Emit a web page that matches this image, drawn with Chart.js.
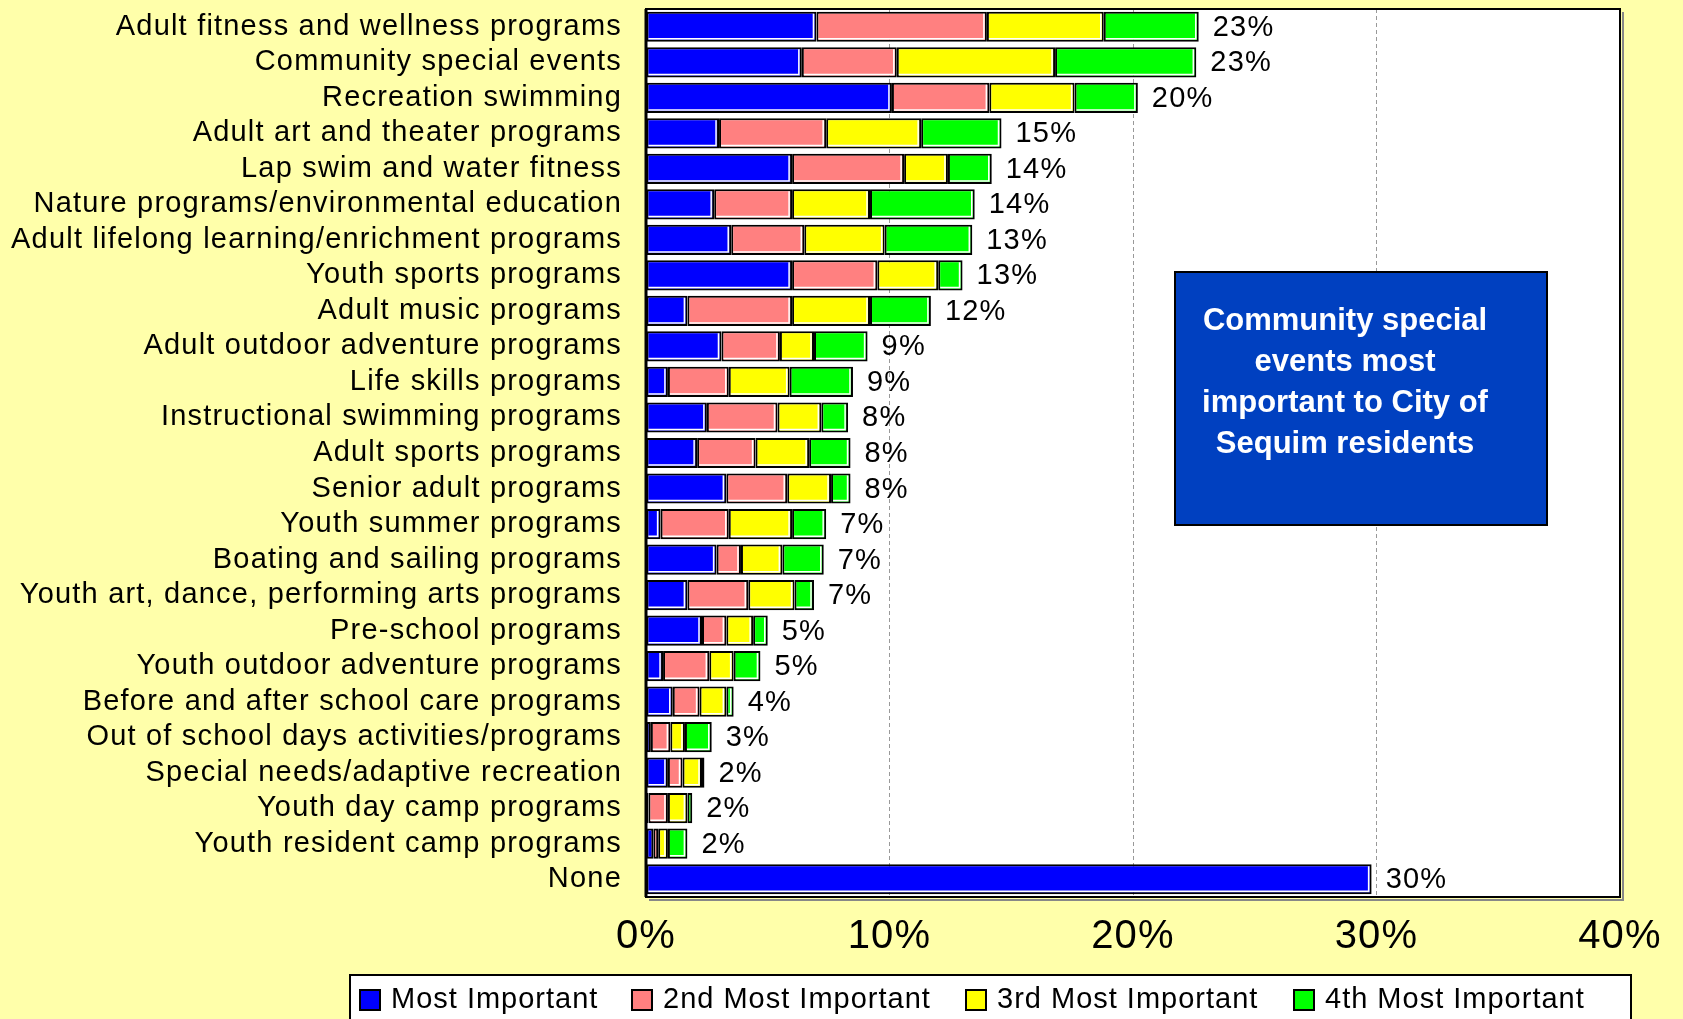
<!DOCTYPE html>
<html>
<head>
<meta charset="utf-8">
<script src="https://cdn.jsdelivr.net/npm/chart.js@4.4.0/dist/chart.umd.min.js"></script>
<style>
  html, body { margin: 0; padding: 0; background: #FFFFAA; }
  #wrap { width: 1683px; height: 1019px; }
</style>
</head>
<body>
<div id="wrap"><canvas id="chart" width="1683" height="1019"></canvas></div>
<script>
const categories = [
    'Adult fitness and wellness programs',
    'Community special events',
    'Recreation swimming',
    'Adult art and theater programs',
    'Lap swim and water fitness',
    'Nature programs/environmental education',
    'Adult lifelong learning/enrichment programs',
    'Youth sports programs',
    'Adult music programs',
    'Adult outdoor adventure programs',
    'Life skills programs',
    'Instructional swimming programs',
    'Adult sports programs',
    'Senior adult programs',
    'Youth summer programs',
    'Boating and sailing programs',
    'Youth art, dance, performing arts programs',
    'Pre-school programs',
    'Youth outdoor adventure programs',
    'Before and after school care programs',
    'Out of school days activities/programs',
    'Special needs/adaptive recreation',
    'Youth day camp programs',
    'Youth resident camp programs',
    'None'
];

const mostImportant = [7.0, 6.4, 10.1, 3.0, 6.0, 2.8, 3.5, 6.0, 1.7, 3.1, 0.9, 2.5, 2.1, 3.3, 0.6, 2.9, 1.7, 2.3, 0.7, 1.1, 0.2, 0.9, 0.1, 0.3, 29.8];
const secondMost    = [7.0, 3.9, 4.0, 4.4, 4.6, 3.2, 3.0, 3.5, 4.3, 2.4, 2.5, 2.9, 2.4, 2.5, 2.8, 1.0, 2.5, 1.0, 1.9, 1.1, 0.8, 0.6, 0.8, 0.2, 0];
const thirdMost     = [4.8, 6.5, 3.5, 3.9, 1.8, 3.2, 3.3, 2.5, 3.2, 1.4, 2.5, 1.8, 2.2, 1.8, 2.6, 1.7, 1.9, 1.1, 1.0, 1.1, 0.6, 0.8, 0.8, 0.4, 0];
const fourthMost    = [3.9, 5.8, 2.6, 3.3, 1.8, 4.3, 3.6, 1.0, 2.5, 2.2, 2.6, 1.1, 1.7, 0.8, 1.4, 1.7, 0.8, 0.6, 1.1, 0.3, 1.1, 0.1, 0.2, 0.8, 0];
const totalLabels   = [23, 23, 20, 15, 14, 14, 13, 13, 12, 9, 9, 8, 8, 8, 7, 7, 7, 5, 5, 4, 3, 2, 2, 2, 30];

const seriesNames = ['Most Important', '2nd Most Important', '3rd Most Important', '4th Most Important'];
const seriesColors = ['#0000FF', '#FF8080', '#FFFF00', '#00FF00'];
const xMax = 40;
const xStep = 10;
const calloutLines = ['Community special', 'events most', 'important to City of', 'Sequim residents'];

const FONT = "'Liberation Sans', Arial, Helvetica, sans-serif";

const seriesValues = [mostImportant, secondMost, thirdMost, fourthMost];
const datasets = seriesNames.map((name, i) => ({
    label: name,
    data: seriesValues[i],
    backgroundColor: seriesColors[i],
    borderColor: '#000000',
    borderWidth: 2,
    borderSkipped: false,
    barPercentage: 0.85,
    categoryPercentage: 1.0
}));

// white highlight inside each segment (bottom/right), like the old Excel look
const segmentHighlight = {
    id: 'segmentHighlight',
    afterDatasetsDraw(chart) {
        const ctx = chart.ctx;
        ctx.save();
        ctx.strokeStyle = '#FFFFFF';
        ctx.lineWidth = 1.5;
        chart.data.datasets.forEach((ds, di) => {
            chart.getDatasetMeta(di).data.forEach((bar, i) => {
                if (!ds.data[i]) return;
                const l = Math.min(bar.base, bar.x) + 2;
                const r = Math.max(bar.base, bar.x) - 2;
                const t = bar.y - bar.height / 2 + 2;
                const b = bar.y + bar.height / 2 - 2;
                if (r - l < 3) return;
                ctx.beginPath();
                ctx.moveTo(l, b - 1);
                ctx.lineTo(r - 1, b - 1);
                ctx.lineTo(r - 1, t);
                ctx.stroke();
            });
        });
        ctx.restore();
    }
};

const totalsPlugin = {
    id: 'totals',
    afterDatasetsDraw(chart) {
        const ctx = chart.ctx;
        const lastMeta = chart.getDatasetMeta(chart.data.datasets.length - 1);
        ctx.save();
        ctx.font = '29px ' + FONT;
        ctx.fillStyle = '#000';
        ctx.textAlign = 'left';
        ctx.textBaseline = 'middle';
        lastMeta.data.forEach((bar, i) => {
            ctx.fillText(totalLabels[i] + '%', bar.x + 14, bar.y + 1);
        });
        ctx.restore();
    }
};

const framePlugin = {
    id: 'frame',
    beforeDraw(chart) {
        const { ctx, chartArea: a } = chart;
        ctx.fillStyle = '#FFFFAA';
        ctx.fillRect(0, 0, chart.width, chart.height);
        ctx.fillStyle = '#FFFFFF';
        ctx.fillRect(a.left, a.top, a.right - a.left, a.bottom - a.top);
        // the original text is set a little loose
        ctx.letterSpacing = '1.2px';
    },
    afterDraw(chart) {
        const { ctx, chartArea: a } = chart;
        ctx.save();
        ctx.strokeStyle = '#888';
        ctx.lineWidth = 2;
        ctx.beginPath();
        ctx.moveTo(a.left + 3, a.bottom + 3);
        ctx.lineTo(a.right + 3, a.bottom + 3);
        ctx.lineTo(a.right + 3, a.top + 3);
        ctx.stroke();
        ctx.strokeStyle = '#000';
        ctx.lineWidth = 2;
        ctx.strokeRect(a.left, a.top, a.right - a.left, a.bottom - a.top);
        ctx.lineWidth = 3;
        ctx.beginPath();
        ctx.moveTo(a.left, a.top);
        ctx.lineTo(a.left, a.bottom);
        ctx.stroke();

        // callout box
        const bx = 1175, by = 272, bw = 372, bh = 253;
        ctx.fillStyle = '#FFFFFF';
        ctx.fillRect(bx + 2, by + 2, bw, bh);
        ctx.fillStyle = '#0040C0';
        ctx.fillRect(bx, by, bw, bh);
        ctx.strokeStyle = '#000';
        ctx.lineWidth = 2;
        ctx.strokeRect(bx, by, bw, bh);
        ctx.fillStyle = '#FFFFFF';
        ctx.letterSpacing = '0px';
        ctx.font = 'bold 31px ' + FONT;
        ctx.textAlign = 'center';
        ctx.textBaseline = 'middle';
        calloutLines.forEach((line, i) => {
            ctx.fillText(line, bx + 170, by + 49 + i * 41);
        });

        // legend
        ctx.letterSpacing = '1px';
        const lx = 350, ly = 975, lw = 1281;
        ctx.fillStyle = '#FFFFFF';
        ctx.fillRect(lx, ly, lw, chart.height - ly + 5);
        ctx.strokeStyle = '#000';
        ctx.lineWidth = 2;
        ctx.strokeRect(lx, ly, lw, chart.height - ly + 5);
        const itemX = [360, 632, 966, 1294];
        ctx.font = '29px ' + FONT;
        ctx.textAlign = 'left';
        ctx.textBaseline = 'middle';
        seriesNames.forEach((name, i) => {
            const sx = itemX[i], sy = 990;
            ctx.fillStyle = '#FFFFFF';
            ctx.fillRect(sx + 2, sy + 2, 20, 20);
            ctx.fillStyle = seriesColors[i];
            ctx.fillRect(sx, sy, 20, 20);
            ctx.strokeStyle = '#000';
            ctx.lineWidth = 2;
            ctx.strokeRect(sx, sy, 20, 20);
            ctx.fillStyle = '#000';
            ctx.fillText(name, sx + 31, 1000);
        });
        ctx.restore();
    }
};

new Chart(document.getElementById('chart'), {
    type: 'bar',
    data: { labels: categories, datasets: datasets },
    options: {
        indexAxis: 'y',
        responsive: false,
        animation: false,
        devicePixelRatio: 1,
        layout: { padding: { top: 9, right: 63, bottom: 0, left: 0 } },
        plugins: {
            legend: { display: false },
            tooltip: { enabled: false }
        },
        scales: {
            x: {
                stacked: true,
                min: 0,
                max: xMax,
                afterFit: (scale) => { scale.height = 122; },
                ticks: {
                    stepSize: xStep,
                    callback: (v) => v + '%',
                    color: '#000',
                    font: { family: FONT, size: 40 },
                    padding: 16
                },
                grid: { color: '#999', lineWidth: 1, drawTicks: false },
                border: { display: false, dash: [4, 3] }
            },
            y: {
                stacked: true,
                afterFit: (scale) => {
                    scale.width = 646;
                    scale.paddingTop = 0;
                    scale.paddingBottom = 0;
                },
                ticks: {
                    color: '#000',
                    font: { family: FONT, size: 29 },
                    padding: 24,
                    autoSkip: false
                },
                grid: { display: false, drawTicks: false },
                border: { display: false }
            }
        }
    },
    plugins: [framePlugin, segmentHighlight, totalsPlugin]
});
</script>
</body>
</html>
